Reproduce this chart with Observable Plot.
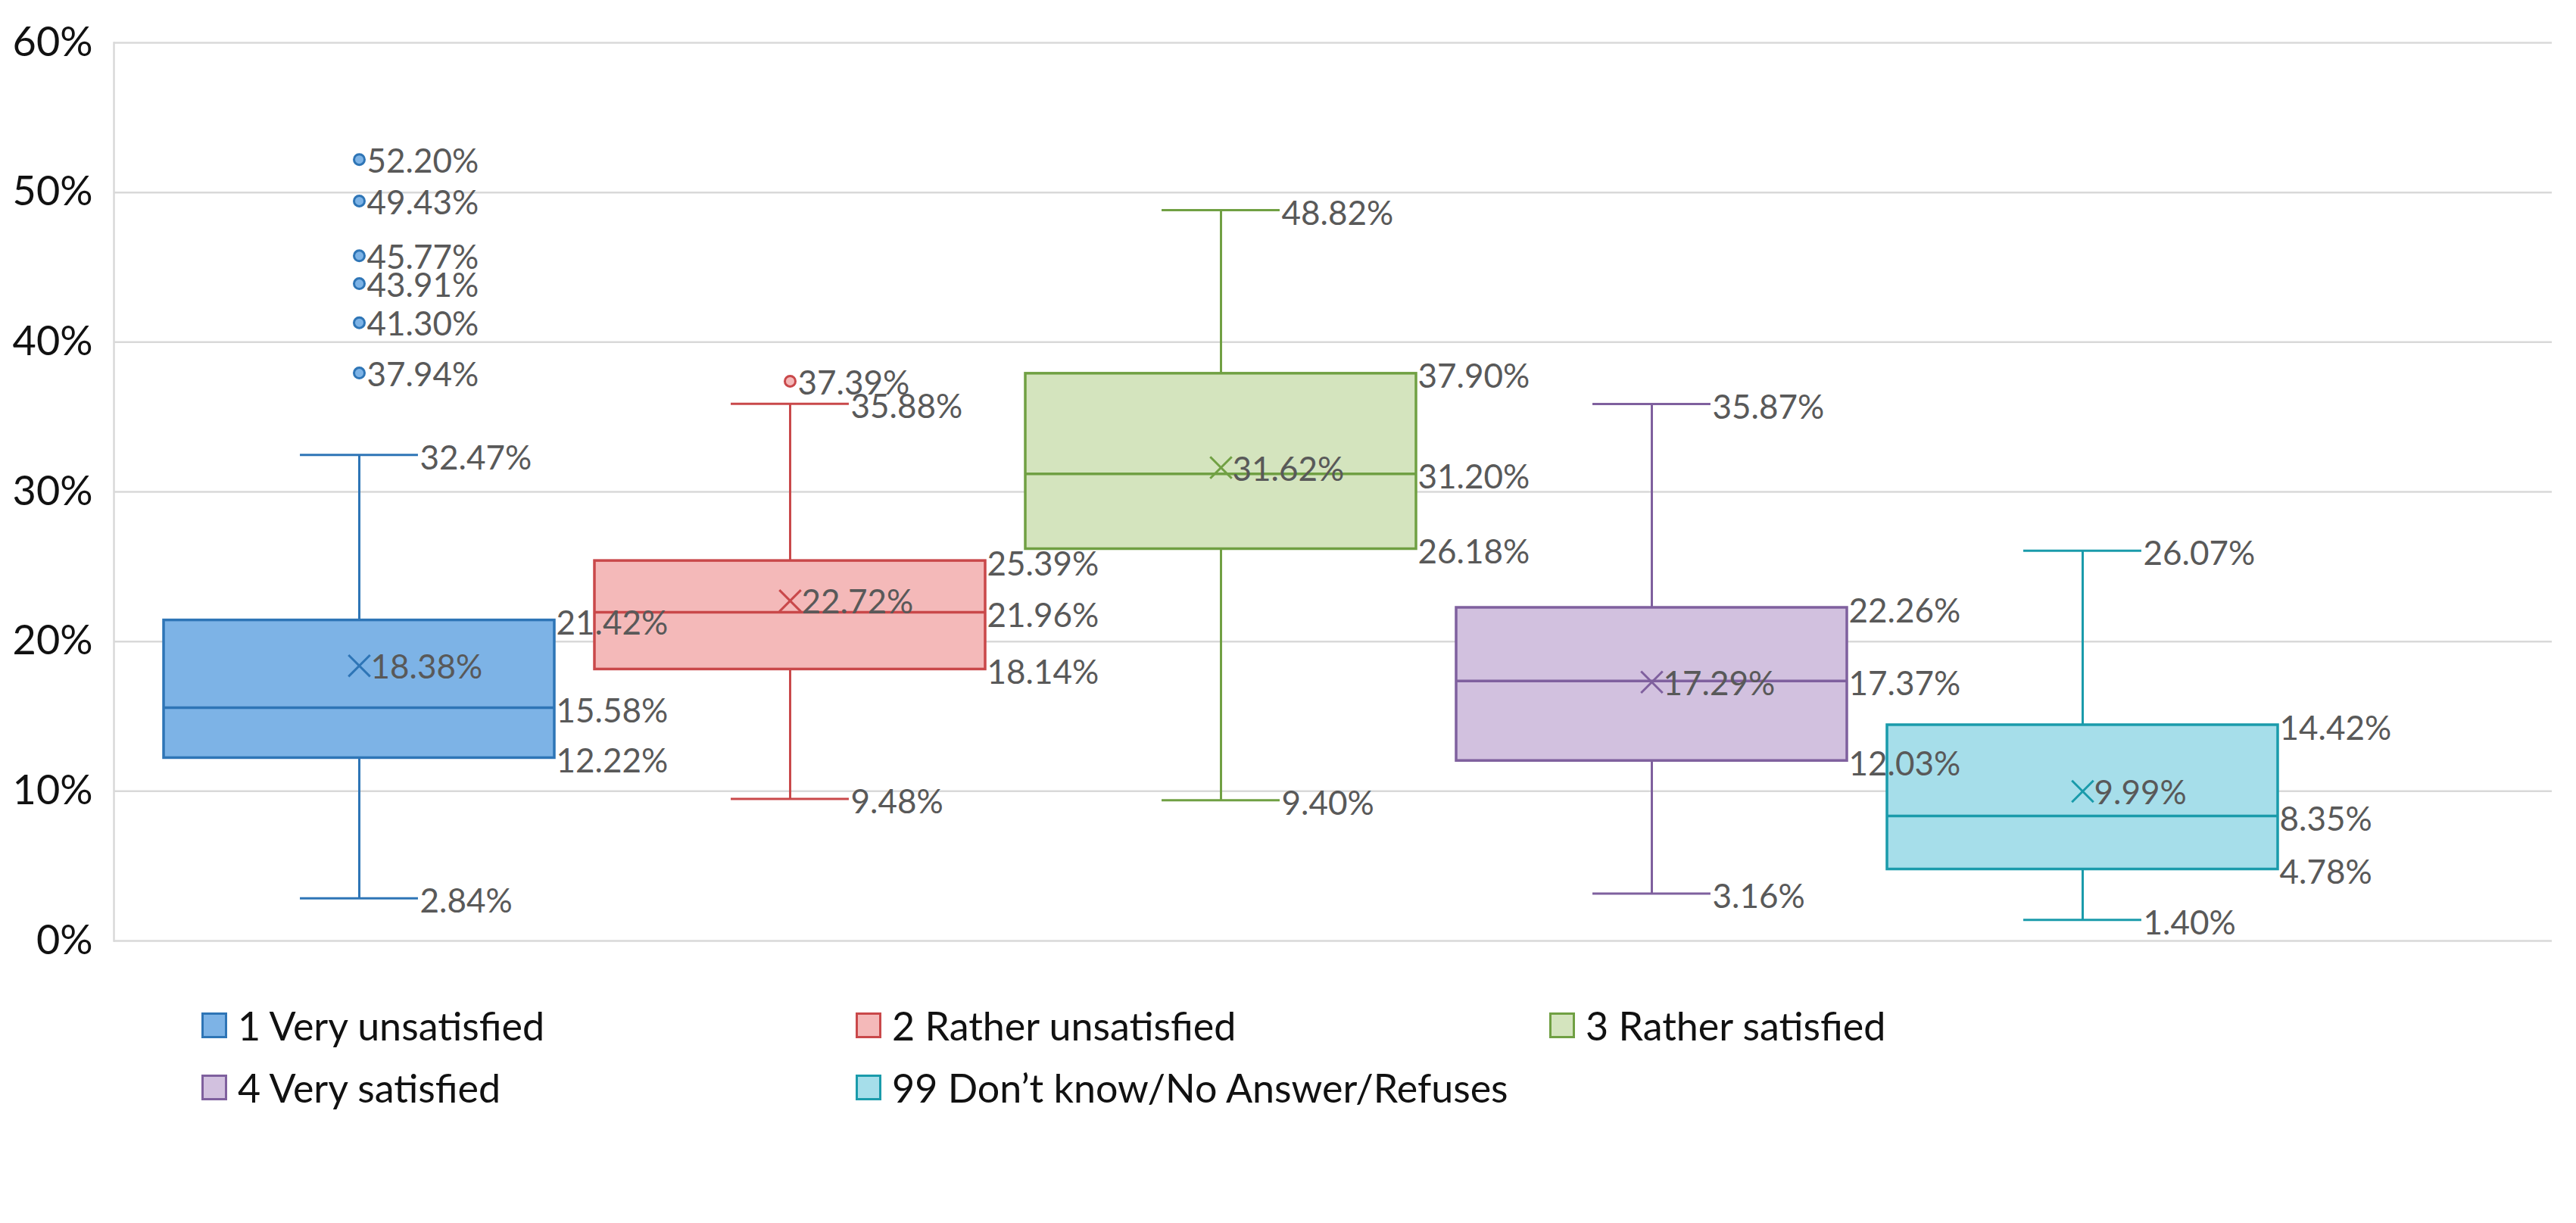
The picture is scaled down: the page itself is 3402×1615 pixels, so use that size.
<!DOCTYPE html>
<html>
<head>
<meta charset="utf-8">
<script src="https://cdn.jsdelivr.net/npm/d3@7"></script>
<script src="https://cdn.jsdelivr.net/npm/@observablehq/plot@0.6"></script>
<style>
  html, body { margin: 0; padding: 0; background: #fff; }
  body { width: 3402px; height: 1615px; overflow: hidden; font-family: Lato, "Open Sans", sans-serif; }
  #legend { position: relative; margin-top: 24px; padding-left: 266px; display: grid;
            grid-template-columns: 864px 916px 900px; row-gap: 22px; }
  .item { display: flex; align-items: center; height: 60px; font-size: 52px; color: #111; }
  .sw { width: 28px; height: 28px; border-width: 3px; border-style: solid; margin-right: 14px; flex: none; }
</style>
</head>
<body>
<div id="chart"></div>
<div id="legend"></div>
<script>
// ---- data ----
const series = ["1 Very unsatisfied", "2 Rather unsatisfied", "3 Rather satisfied", "4 Very satisfied", "99 Don’t know/No Answer/Refuses"];
const whiskerLow  = [2.84, 9.48, 9.40, 3.16, 1.40];
const q1          = [12.22, 18.14, 26.18, 12.03, 4.78];
const median      = [15.58, 21.96, 31.20, 17.37, 8.35];
const q3          = [21.42, 25.39, 37.90, 22.26, 14.42];
const whiskerHigh = [32.47, 35.88, 48.82, 35.87, 26.07];
const mean        = [18.38, 22.72, 31.62, 17.29, 9.99];
const outliers    = [[37.94, 41.30, 43.91, 45.77, 49.43, 52.20], [37.39], [], [], []];
const yTicks      = [0, 10, 20, 30, 40, 50, 60];

const fills   = ["#7DB3E6", "#F4B9B9", "#D4E4BE", "#D2C1DF", "#A6DEEA"];
const strokes = ["#2E75B6", "#C9484A", "#70A043", "#7F609E", "#1A9BAB"];

// ---- tables built from the arrays ----
const boxes = series.map((s, i) => ({
  series: s, lo: whiskerLow[i], q1: q1[i], med: median[i], q3: q3[i], hi: whiskerHigh[i], mean: mean[i]
}));
const outs = series.flatMap((s, i) => outliers[i].map(v => ({series: s, value: v})));
const capLabels = boxes.flatMap(b => [{series: b.series, value: b.lo}, {series: b.series, value: b.hi}]);
const boxLabels = boxes.flatMap(b => [{series: b.series, value: b.q1}, {series: b.series, value: b.med}, {series: b.series, value: b.q3}]);
const meanLabels = boxes.map(b => ({series: b.series, value: b.mean}));

const fmt = v => v.toFixed(2) + "%";
const fillOf = Object.fromEntries(series.map((s, i) => [s, fills[i]]));
const strokeOf = Object.fromEntries(series.map((s, i) => [s, strokes[i]]));

const W = 3402, H = 1300;
const step = (W - 150 - 32) / (5 - 0.093 + 2 * 0.376);
const bw = step * (1 - 0.093);
const capInset = (bw - 156) / 2;
const labelFont = 44;
const labelColor = "#595959";

const chart = Plot.plot({
  width: W,
  height: H,
  marginLeft: 150,
  marginRight: 32,
  marginTop: 56,
  marginBottom: 58,
  style: {fontFamily: "Lato, 'Open Sans', sans-serif", background: "#fff"},
  x: {type: "band", domain: series, paddingInner: 0.093, paddingOuter: 0.376, align: 0.154, axis: null},
  y: {domain: [0, 60], axis: null},
  marks: [
    Plot.ruleY(yTicks, {stroke: "#D9D9D9", strokeWidth: 2.5}),
    Plot.frame({anchor: "left", stroke: "#D9D9D9", strokeWidth: 2.5}),
    Plot.axisY({ticks: yTicks, tickSize: 0, tickPadding: 28, fontSize: 54, fill: "#111",
                tickFormat: d => d + "%"}),
    // whiskers
    Plot.ruleX(boxes, {x: "series", y1: "lo", y2: "q1", stroke: d => strokeOf[d.series], strokeWidth: 3}),
    Plot.ruleX(boxes, {x: "series", y1: "q3", y2: "hi", stroke: d => strokeOf[d.series], strokeWidth: 3}),
    Plot.tickY(boxes, {x: "series", y: "lo", stroke: d => strokeOf[d.series], strokeWidth: 3, insetLeft: capInset, insetRight: capInset}),
    Plot.tickY(boxes, {x: "series", y: "hi", stroke: d => strokeOf[d.series], strokeWidth: 3, insetLeft: capInset, insetRight: capInset}),
    // boxes
    Plot.barY(boxes, {x: "series", y1: "q1", y2: "q3", fill: d => fillOf[d.series], stroke: d => strokeOf[d.series], strokeWidth: 3.5}),
    Plot.tickY(boxes, {x: "series", y: "med", stroke: d => strokeOf[d.series], strokeWidth: 3.5}),
    // mean markers
    Plot.dot(boxes, {x: "series", y: "mean", symbol: "times", r: 13, stroke: d => strokeOf[d.series], strokeWidth: 3}),
    // outliers
    Plot.dot(outs, {x: "series", y: "value", r: 7, fill: d => fillOf[d.series], stroke: d => strokeOf[d.series], strokeWidth: 3}),
    // labels
    Plot.text(capLabels, {x: "series", y: "value", text: d => fmt(d.value), dx: 80, dy: 5, textAnchor: "start", lineAnchor: "middle", fontSize: labelFont, fill: labelColor}),
    Plot.text(boxLabels, {x: "series", y: "value", text: d => fmt(d.value), dx: bw / 2 + 2, dy: 5, textAnchor: "start", lineAnchor: "middle", fontSize: labelFont, fill: labelColor}),
    Plot.text(meanLabels, {x: "series", y: "value", text: d => fmt(d.value), dx: 15, dy: 3, textAnchor: "start", lineAnchor: "middle", fontSize: labelFont, fill: labelColor}),
    Plot.text(outs, {x: "series", y: "value", text: d => fmt(d.value), dx: 10, dy: 3, textAnchor: "start", lineAnchor: "middle", fontSize: labelFont, fill: labelColor})
  ]
});
document.getElementById("chart").appendChild(chart);

// legend (order as in the reference: row-wise, three columns)
const legend = document.getElementById("legend");
series.forEach((s, i) => {
  const item = document.createElement("div");
  item.className = "item";
  const sw = document.createElement("span");
  sw.className = "sw";
  sw.style.background = fills[i];
  sw.style.borderColor = strokes[i];
  const t = document.createElement("span");
  t.textContent = s;
  item.appendChild(sw);
  item.appendChild(t);
  legend.appendChild(item);
});
</script>
</body>
</html>
